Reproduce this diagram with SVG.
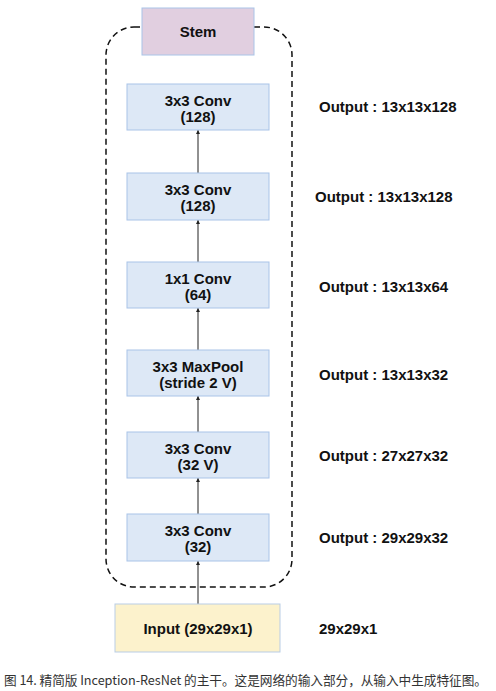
<svg xmlns="http://www.w3.org/2000/svg" width="496" height="691" viewBox="0 0 496 691">
<style>
.t{font-family:"Liberation Sans",Arial,sans-serif;font-weight:bold;font-size:15px;fill:#111;}
.c{text-anchor:middle;}
.blue{fill:#dde8f6;stroke:#a9c4e8;stroke-width:1;}
.cap{font-family:"Noto Sans CJK SC","Noto Sans",sans-serif;font-size:12.7px;fill:#333;}
.edge{stroke:#222;stroke-width:1;fill:none;marker-end:url(#ah);}
</style>
<defs>
<marker id="ah" viewBox="0 0 6 6" refX="6" refY="3" markerWidth="4" markerHeight="4" orient="auto" markerUnits="userSpaceOnUse">
<path d="M0,0 L6,3 L0,6 z" fill="#222"/>
</marker>
</defs>
<rect width="496" height="691" fill="#fff"/>
<g id="container">
<rect x="106" y="27" width="186" height="560" rx="28" ry="28" fill="none" stroke="#111" stroke-width="1.5" stroke-dasharray="6,4"/>
</g>
<g id="connectors">
<line class="edge" x1="198" y1="604" x2="198" y2="561"/>
<line class="edge" x1="198" y1="514" x2="198" y2="478"/>
<line class="edge" x1="198" y1="432" x2="198" y2="396"/>
<line class="edge" x1="198" y1="350" x2="198" y2="308"/>
<line class="edge" x1="198" y1="262" x2="198" y2="220"/>
<line class="edge" x1="198" y1="173" x2="198" y2="130"/>
</g>
<g id="stem">
<rect x="142" y="8" width="112" height="47" fill="#e1cfe0" stroke="#a9c4e8"/>
<text class="t c" x="198" y="37">Stem</text>
</g>
<g id="conv1">
<rect class="blue" x="127" y="84" width="142" height="46"/>
<text class="t c" x="198" y="106">3x3 Conv</text>
<text class="t c" x="198" y="122">(128)</text>
</g>
<g id="conv2">
<rect class="blue" x="127" y="173" width="142" height="47"/>
<text class="t c" x="198" y="195">3x3 Conv</text>
<text class="t c" x="198" y="211">(128)</text>
</g>
<g id="conv3">
<rect class="blue" x="127" y="262" width="142" height="46"/>
<text class="t c" x="198" y="284">1x1 Conv</text>
<text class="t c" x="198" y="300">(64)</text>
</g>
<g id="maxpool">
<rect class="blue" x="127" y="350" width="142" height="46"/>
<text class="t c" x="198" y="372">3x3 MaxPool</text>
<text class="t c" x="198" y="388">(stride 2 V)</text>
</g>
<g id="conv4">
<rect class="blue" x="127" y="432" width="142" height="46"/>
<text class="t c" x="198" y="454">3x3 Conv</text>
<text class="t c" x="198" y="470">(32 V)</text>
</g>
<g id="conv5">
<rect class="blue" x="127" y="514" width="142" height="47"/>
<text class="t c" x="198" y="536">3x3 Conv</text>
<text class="t c" x="198" y="552">(32)</text>
</g>
<g id="input">
<rect x="115" y="604" width="165" height="48" fill="#fcf2cc" stroke="#b9cde6"/>
<text class="t c" x="198" y="634">Input (29x29x1)</text>
</g>
<g id="labels">
<text class="t" x="319" y="112">Output : 13x13x128</text>
<text class="t" x="315" y="202">Output : 13x13x128</text>
<text class="t" x="319" y="292">Output : 13x13x64</text>
<text class="t" x="319" y="380">Output : 13x13x32</text>
<text class="t" x="319" y="461">Output : 27x27x32</text>
<text class="t" x="319" y="543">Output : 29x29x32</text>
<text class="t" x="319" y="634">29x29x1</text>
</g>
<text class="cap" x="4" y="685" textLength="483" lengthAdjust="spacing">图 14. 精简版 Inception-ResNet 的主干。这是网络的输入部分，从输入中生成特征图。</text>
</svg>
